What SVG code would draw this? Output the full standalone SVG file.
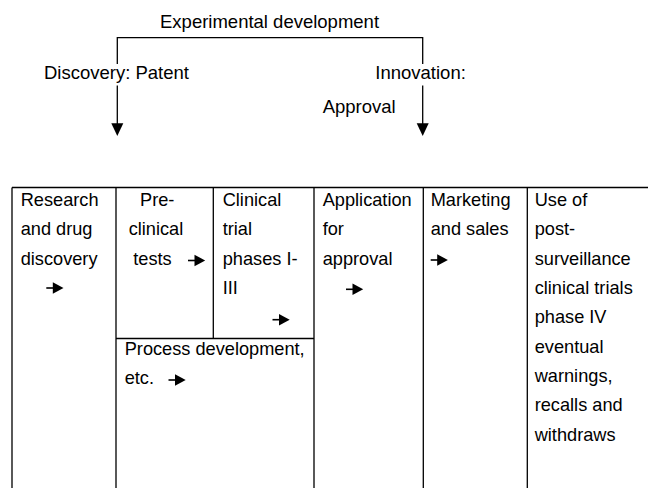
<svg xmlns="http://www.w3.org/2000/svg" xmlns:xlink="http://www.w3.org/1999/xlink" width="648" height="488" viewBox="0 0 648 488">
<style>
.t{font-family:"Liberation Sans",Arial,sans-serif;font-size:18.2px;fill:#000}
.h{font-family:"Liberation Sans",Arial,sans-serif;font-size:18.5px;fill:#000}
.ln{stroke:#000;stroke-width:1.3;fill:none}
</style>
<defs>
<g id="arr">
<rect x="0" y="-0.8" width="7.5" height="1.6" fill="#000"/>
<polygon points="6.5,-5.7 17.2,0 6.5,5.7" fill="#000"/>
</g>
</defs>
<rect width="648" height="488" fill="#fff"/>
<g id="connectors">
<path class="ln" d="M117.3 64 V37.7 H422.7 V64"/>
<path class="ln" d="M117.3 85.5 V124"/>
<path class="ln" d="M422.7 85.5 V124"/>
<polygon points="111.3,123.3 123.3,123.3 117.3,136" fill="#000"/>
<polygon points="416.7,123.3 428.7,123.3 422.7,136" fill="#000"/>
</g>
<g id="labels">
<text class="h" x="160" y="27.5">Experimental development</text>
<text class="h" x="44" y="78.7">Discovery: Patent</text>
<text class="h" x="375.3" y="79">Innovation:</text>
<text class="h" x="322.7" y="112.7">Approval</text>
</g>
<g id="table">
<path class="ln" d="M12 187.5 H648 M12 187.5 V488 M116 187.5 V488 M213.3 187.5 V338.5 M116 338.5 H314 M314 187.5 V488 M423.3 187.5 V488 M527.3 187.5 V488"/>
</g>
<g id="research">
<text class="t" x="20.7" y="206">Research</text>
<text class="t" x="20.7" y="235.3">and drug</text>
<text class="t" x="20.7" y="264.7">discovery</text>
<use xlink:href="#arr" href="#arr" x="46.3" y="288"/>
</g>
<g id="preclinical">
<text class="t" x="140" y="206">Pre-</text>
<text class="t" x="128.7" y="235.3">clinical</text>
<text class="t" x="133.3" y="264.7">tests</text>
<use xlink:href="#arr" href="#arr" x="188" y="260.5"/>
</g>
<g id="clinical">
<text class="t" x="222.7" y="206">Clinical</text>
<text class="t" x="222.7" y="235.3">trial</text>
<text class="t" x="222.7" y="264.7">phases I-</text>
<text class="t" x="222.7" y="294">III</text>
<use xlink:href="#arr" href="#arr" x="272.5" y="319.7"/>
</g>
<g id="process">
<text class="t" x="124.7" y="355.3">Process development,</text>
<text class="t" x="124.7" y="384">etc.</text>
<use xlink:href="#arr" href="#arr" x="168.5" y="380"/>
</g>
<g id="application">
<text class="t" x="322.7" y="206">Application</text>
<text class="t" x="322.7" y="235.3">for</text>
<text class="t" x="322.7" y="264.7">approval</text>
<use xlink:href="#arr" href="#arr" x="346" y="289.3"/>
</g>
<g id="marketing">
<text class="t" x="430.7" y="206">Marketing</text>
<text class="t" x="430.7" y="235.3">and sales</text>
<use xlink:href="#arr" href="#arr" x="430.7" y="260"/>
</g>
<g id="postmarket">
<text class="t" x="534.7" y="206">Use of</text>
<text class="t" x="534.7" y="235.3">post-</text>
<text class="t" x="534.7" y="264.7">surveillance</text>
<text class="t" x="534.7" y="294">clinical trials</text>
<text class="t" x="534.7" y="323.3">phase IV</text>
<text class="t" x="534.7" y="352.7">eventual</text>
<text class="t" x="534.7" y="382">warnings,</text>
<text class="t" x="534.7" y="411.3">recalls and</text>
<text class="t" x="534.7" y="440.7">withdraws</text>
</g>
</svg>
